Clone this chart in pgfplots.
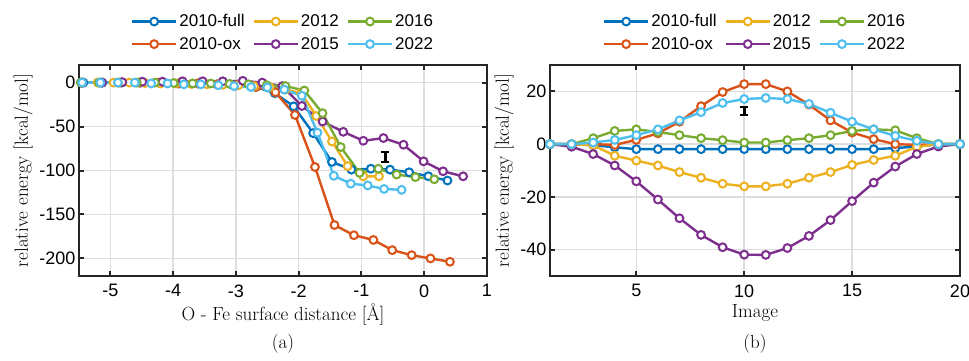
\documentclass[border=0pt]{standalone}
\usepackage{fontspec}
\setsansfont{Liberation Sans}
\usepackage{pgfplots}
\pgfplotsset{compat=1.18}
\definecolor{mblue}{rgb}{0,0.447,0.741}
\definecolor{morange}{rgb}{0.850,0.325,0.098}
\definecolor{myellow}{rgb}{0.929,0.694,0.125}
\definecolor{mpurple}{rgb}{0.494,0.184,0.556}
\definecolor{mgreen}{rgb}{0.466,0.674,0.188}
\definecolor{mcyan}{rgb}{0.301,0.745,0.933}
\definecolor{axc}{rgb}{0.15,0.15,0.15}
\definecolor{gridc}{rgb}{0.87,0.87,0.87}
\pgfplotsset{
  ser/.style={color=#1, line width=2.4pt, mark=*, mark size=3.9pt, mark options={fill=white, solid, line width=2pt}},
  ebar/.style={black, mark=none, forget plot, error bars/.cd, y dir=both, y explicit,
     error bar style={line width=2.6pt, black},
     error mark options={rotate=90, mark size=4pt, line width=2.2pt, black}},
  myaxis/.style={
    scale only axis, width=408pt, height=211pt,
    axis line style={color=axc, line width=2pt},
    tick style={color=axc, line width=2pt}, major tick length=5pt, tick align=inside,
    grid=major, major grid style={color=gridc, line width=1.6pt},
    tick label style={font=\sffamily\fontsize{18}{18}\selectfont, text=black},
    xticklabel style={yshift=-5pt},
    /pgf/number format/assume math mode=true,
    label style={font=\fontsize{19}{19}\selectfont},
    xlabel style={yshift=0pt},
    legend style={draw=none, fill=none, at={(0.5,1)}, anchor=south, yshift=12pt,
      font=\sffamily\fontsize{17}{17}\selectfont,
      /tikz/every even column/.append style={column sep=6pt},
      row sep=5pt, inner sep=0pt},
    legend cell align=left,
    legend columns=2, transpose legend,
    legend image code/.code={\draw[mark repeat=2,mark phase=2,##1] plot coordinates {(0pt,0pt)(22pt,0pt)(44pt,0pt)};},
  }
}
\begin{document}
\begin{tikzpicture}
\useasboundingbox (0,0) rectangle (969pt,360pt);
\begin{axis}[myaxis, at={(79pt,84pt)}, anchor=south west,
  xmin=-5.5, xmax=1, ymin=-220, ymax=20,
  xtick={-5,-4,-3,-2,-1,0,1}, xticklabels={-5,-4,-3,-2,-1,0,1},
  ytick={-200,-150,-100,-50,0}, yticklabels={-200,-150,-100,-50,0},
  xlabel={O - Fe surface distance [Å]}, ylabel={relative energy [kcal/mol]}]
\addplot[ser=mblue] coordinates {(-5.43,0) (-5.13,0) (-4.82,0) (-4.52,0) (-4.21,-0.5) (-3.91,-1) (-3.60,-1) (-3.30,-2) (-2.99,-3) (-2.69,-5) (-2.38,-12) (-2.08,-27) (-1.77,-57.5) (-1.47,-90.3) (-1.16,-99) (-0.85,-98) (-0.545,-99) (-0.24,-102) (0.065,-106.5) (0.37,-111.4)};
\addlegendentry{2010-full}
\addplot[ser=morange] coordinates {(-5.47,0) (-5.16,0) (-4.85,0) (-4.54,0) (-4.23,0) (-3.92,-1) (-3.61,-1) (-3.30,-2) (-2.99,-3) (-2.68,-5) (-2.37,-11) (-2.06,-36.8) (-1.74,-96) (-1.43,-162) (-1.12,-173.6) (-0.81,-179) (-0.51,-190.6) (-0.20,-196.3) (0.10,-200) (0.41,-203.8)};
\addlegendentry{2010-ox}
\addplot[ser=myellow] coordinates {(-5.45,0) (-5.20,0) (-4.95,0) (-4.70,0) (-4.45,-0.5) (-4.20,-1) (-3.96,-1) (-3.71,-1.5) (-3.46,-2) (-3.21,-2.5) (-2.96,-3) (-2.71,-4) (-2.46,-5) (-2.21,-8) (-1.96,-12) (-1.72,-38) (-1.47,-67) (-1.22,-95) (-0.97,-106.6) (-0.72,-106.6)};
\addlegendentry{2012}
\addplot[ser=mpurple] coordinates {(-5.45,0) (-5.13,0) (-4.81,0.5) (-4.49,1) (-4.17,1) (-3.85,1.5) (-3.53,1.5) (-3.21,1.5) (-2.89,2) (-2.58,0) (-2.26,-4) (-1.95,-26.6) (-1.62,-44.3) (-1.29,-56) (-0.97,-66.2) (-0.65,-63.1) (-0.33,-70.7) (-0.01,-89.6) (0.30,-100.9) (0.62,-106.6)};
\addlegendentry{2015}
\addplot[ser=mgreen] coordinates {(-5.47,0) (-5.18,0) (-4.88,0) (-4.58,0) (-4.29,0) (-3.99,-0.5) (-3.69,-1) (-3.40,-1) (-3.10,-1.5) (-2.80,-2) (-2.51,-3) (-2.21,-4) (-1.91,-9) (-1.62,-34.8) (-1.33,-73.3) (-1.03,-102.7) (-0.73,-98) (-0.44,-104.6) (-0.14,-107.5) (0.16,-110)};
\addlegendentry{2016}
\addplot[ser=mcyan] coordinates {(-5.45,0) (-5.16,0) (-4.88,0) (-4.61,0) (-4.35,-1) (-4.09,-1) (-3.83,-2) (-3.56,-2) (-3.28,-3) (-3.03,-4) (-2.76,-5) (-2.50,-5.5) (-2.23,-8) (-1.95,-15) (-1.70,-57) (-1.44,-106) (-1.17,-115) (-0.90,-117) (-0.64,-121) (-0.36,-122)};
\addlegendentry{2022}
\addplot[ebar] coordinates {(-0.62,-84.6) +- (0,5.5)};
\end{axis}
\begin{axis}[myaxis, at={(550pt,84pt)}, anchor=south west, width=410pt,
  xmin=1, xmax=20, ymin=-50, ymax=30,
  xtick={5,10,15,20}, ytick={-40,-20,0,20}, yticklabels={-40,-20,0,20},
  xlabel={Image}, ylabel={relative energy [kcal/mol]}]
\addplot[ser=mblue] table[row sep=\\] {x y\\ 1 0\\ 2 0\\ 3 -0.4\\ 4 -1.2\\ 5 -1.9\\ 6 -1.9\\ 7 -1.9\\ 8 -1.9\\ 9 -1.9\\ 10 -1.9\\ 11 -1.9\\ 12 -1.9\\ 13 -1.9\\ 14 -1.9\\ 15 -1.9\\ 16 -1.9\\ 17 -1.5\\ 18 -0.9\\ 19 0\\ 20 0\\};
\addlegendentry{2010-full}
\addplot[ser=morange] table[row sep=\\] {x y\\ 1 0\\ 2 0\\ 3 0\\ 4 -0.3\\ 5 1.6\\ 6 4.1\\ 7 8.5\\ 8 14.4\\ 9 19.75\\ 10 22.75\\ 11 22.75\\ 12 20\\ 13 15\\ 14 9\\ 15 4.4\\ 16 1.9\\ 17 0\\ 18 -0.3\\ 19 0\\ 20 0\\};
\addlegendentry{2010-ox}
\addplot[ser=myellow] table[row sep=\\] {x y\\ 1 0\\ 2 0\\ 3 -0.4\\ 4 -4.4\\ 5 -6.25\\ 6 -8.1\\ 7 -10.6\\ 8 -12.75\\ 9 -15\\ 10 -16\\ 11 -16\\ 12 -15\\ 13 -12.75\\ 14 -10.6\\ 15 -7.9\\ 16 -6\\ 17 -4.4\\ 18 -1\\ 19 0\\ 20 0\\};
\addlegendentry{2012}
\addplot[ser=mpurple] table[row sep=\\] {x y\\ 1 0\\ 2 -1\\ 3 -3.75\\ 4 -8.1\\ 5 -14.1\\ 6 -21\\ 7 -28.1\\ 8 -34.4\\ 9 -39.1\\ 10 -41.9\\ 11 -42\\ 12 -39.4\\ 13 -34.8\\ 14 -28.8\\ 15 -21.6\\ 16 -14.6\\ 17 -8.5\\ 18 -3.75\\ 19 -0.9\\ 20 0\\};
\addlegendentry{2015}
\addplot[ser=mgreen] table[row sep=\\] {x y\\ 1 0\\ 2 0\\ 3 2.25\\ 4 5\\ 5 5.6\\ 6 4.6\\ 7 3.4\\ 8 2.25\\ 9 1.5\\ 10 0.6\\ 11 0.6\\ 12 1.5\\ 13 2.25\\ 14 3.4\\ 15 5\\ 16 5.6\\ 17 5.25\\ 18 2.25\\ 19 0\\ 20 0\\};
\addlegendentry{2016}
\addplot[ser=mcyan] table[row sep=\\] {x y\\ 1 0\\ 2 0\\ 3 0.6\\ 4 1.6\\ 5 3.4\\ 6 5.6\\ 7 9\\ 8 12.1\\ 9 15.6\\ 10 17.1\\ 11 17.5\\ 12 17.1\\ 13 15.25\\ 14 11.9\\ 15 8.5\\ 16 5.6\\ 17 3.1\\ 18 1.25\\ 19 0\\ 20 0\\};
\addlegendentry{2022}
\addplot[ebar] coordinates {(10,12.5) +- (0,1.5)};
\end{axis}
\node[font=\fontsize{19}{19}\selectfont] at (283pt,16pt) {(a)};
\node[font=\fontsize{19}{19}\selectfont] at (755pt,16pt) {(b)};
\end{tikzpicture}
\end{document}
